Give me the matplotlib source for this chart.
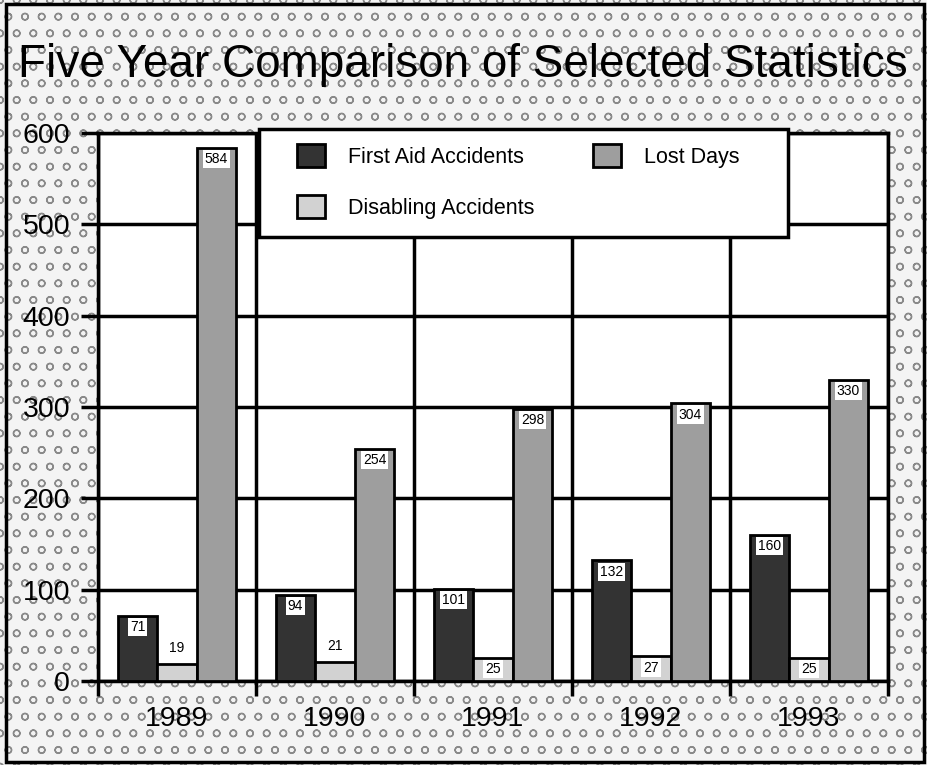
import numpy as np
import matplotlib.pyplot as plt
from matplotlib.patches import Rectangle, Patch

plt.rcParams['font.family'] = ['Liberation Sans', 'DejaVu Sans']

# data
years = ['1989', '1990', '1991', '1992', '1993']
first_aid = [71, 94, 101, 132, 160]
disabling = [19, 21, 25, 27, 25]
lost_days = [584, 254, 298, 304, 330]

c_first = '#333333'
c_disab = '#d2d2d2'
c_lost = '#9e9e9e'

fig = plt.figure(figsize=(9.27, 7.65), dpi=100)

# checkered background + outer frame
bg = Rectangle((0, 0), 1, 1, transform=fig.transFigure, facecolor='#f4f4f4',
               edgecolor='#8a8a8a', hatch='o', lw=0, zorder=-10)
fig.patches.append(bg)
frame = Rectangle((0.007, 0.004), 0.99, 0.991, transform=fig.transFigure,
                  facecolor='none', edgecolor='black', lw=2.5, zorder=-9)
fig.patches.append(frame)

ax = fig.add_axes([0.1057, 0.1098, 0.8522, 0.7163])
ax.set_facecolor('white')

x = np.arange(len(years))
w = 0.25
ax.bar(x - w, first_aid, w, color=c_first, edgecolor='black', lw=2, zorder=3)
ax.bar(x, disabling, w, color=c_disab, edgecolor='black', lw=2, zorder=3)
ax.bar(x + w, lost_days, w, color=c_lost, edgecolor='black', lw=2, zorder=3)

box = dict(boxstyle='square,pad=0.15', fc='white', ec='none')
for xi, v in zip(x - w, first_aid):
    ax.annotate(str(v), (xi, v), xytext=(0, -3), textcoords='offset points',
                ha='center', va='top', fontsize=10, bbox=box, zorder=4)
for xi, v in zip(x + w, lost_days):
    ax.annotate(str(v), (xi, v), xytext=(0, -3), textcoords='offset points',
                ha='center', va='top', fontsize=10, bbox=box, zorder=4)
for xi, v in zip(x, disabling):
    if v < 24:
        ax.annotate(str(v), (xi, v), xytext=(0, 6), textcoords='offset points',
                    ha='center', va='bottom', fontsize=10, zorder=4)
    else:
        ax.annotate(str(v), (xi, v), xytext=(0, -3), textcoords='offset points',
                    ha='center', va='top', fontsize=10, bbox=box, zorder=4)

ax.set_xlim(-0.5, 4.5)
ax.set_ylim(0, 600)

# ticks: majors on category boundaries, labels at centres
ax.set_xticks(np.arange(-0.5, 5, 1))
ax.set_xticklabels([])
ax.set_xticks(x, minor=True)
ax.set_xticklabels(years, minor=True, fontsize=20.5)
ax.tick_params(axis='x', which='major', length=11, width=2.5, direction='out')
ax.tick_params(axis='x', which='minor', length=0, pad=18)
ax.set_yticks(np.arange(0, 601, 100))
ax.tick_params(axis='y', length=12, width=2.5, labelsize=20.5, pad=8)

ax.grid(True, which='major', color='black', lw=2.5, zorder=1)
ax.set_axisbelow(True)
for s in ax.spines.values():
    s.set_linewidth(2.5)

# legend box
lg_rect = Rectangle((0.2035, 0.81), 0.67, 0.198, transform=ax.transAxes,
                    facecolor='white', edgecolor='black', lw=2.5,
                    zorder=6, clip_on=False)
ax.add_patch(lg_rect)
handles = [Patch(facecolor=c_first, edgecolor='black', lw=2),
           Patch(facecolor=c_disab, edgecolor='black', lw=2),
           Patch(facecolor=c_lost, edgecolor='black', lw=2)]
labels = ['First Aid Accidents', 'Disabling Accidents', 'Lost Days']
leg = ax.legend(handles, labels, ncol=2, loc='upper left',
                bbox_to_anchor=(0.238, 1.0), frameon=False, fontsize=15.5,
                handlelength=1.3, handleheight=1.3, handletextpad=1.07,
                labelspacing=1.25, columnspacing=2.75, borderpad=0.5,
                borderaxespad=0)
leg.set_zorder(7)

fig.text(0.019, 0.915, 'Five Year Comparison of Selected Statistics',
         fontsize=33, ha='left', va='center')

fig.savefig('out.png', dpi=100, facecolor=fig.get_facecolor())
